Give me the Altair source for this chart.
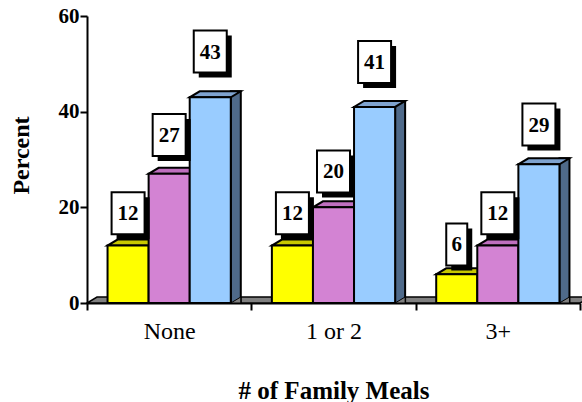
import json
import altair as alt
import pandas as pd

# ---- data ----
categories = ["None", "1 or 2", "3+"]
series = ["Series 1", "Series 2", "Series 3"]
values_1 = [12, 12, 6]
values_2 = [27, 20, 12]
values_3 = [43, 41, 29]
y_ticks = [0, 20, 40, 60]

front_colors = ["#ffff00", "#d383d3", "#99ccff"]
top_colors = ["#c8c800", "#bf6fbf", "#7fa3cf"]
side_color = "#4f6a8a"
floor_color = "#808080"

rows = []
for si, (s, vals) in enumerate(zip(series, [values_1, values_2, values_3])):
    for gi, (c, v) in enumerate(zip(categories, vals)):
        rows.append({"category": c, "series": s, "value": v, "gi": gi, "si": si})
df = pd.DataFrame(rows)

# ---- layout / style ----
FONT = "Liberation Serif"
W, H = 493, 287
STEP = len(series) + 1          # x units per category group
NX = STEP * len(categories)
BW = W / NX                      # bar width in px
DX, DY = 10, 6                   # 3D depth
SW = 2

xscale = alt.Scale(domain=[0, NX], nice=False, zero=False)
yscale = alt.Scale(domain=[0, 60], nice=False)

base = alt.Chart(df).transform_calculate(
    x0=f"datum.gi * {STEP} + 0.5 + datum.si",
    x1="datum.x0 + 1",
    xc="datum.x0 + 0.5",
    ly="datum.value * 1.09 + 5.7",
    nd="datum.value < 10 ? 'one' : 'two'",
)

label_expr = f"{json.dumps(categories)}[datum.value / {STEP}] || ''"

xaxis = alt.Axis(
    values=[i * STEP for i in range(len(categories) + 1)],
    labelExpr=label_expr,
    labelOffset=W / (2 * len(categories)),
    labelFlush=False,
    labelOverlap=False,
    labelFont=FONT, labelFontSize=24, labelColor="black",
    labelBaseline="alphabetic", labelPadding=28,
    tickSize=7, tickWidth=2, tickColor="black",
    domainWidth=2, domainColor="black",
    grid=False,
    title="# of Family Meals",
    titleFont=FONT, titleFontSize=25, titleFontWeight="bold", titleColor="black",
    titleBaseline="alphabetic", titleY=95, titleX=W / 2,
)
yaxis = alt.Axis(
    values=y_ticks,
    labelFont=FONT, labelFontSize=21, labelFontWeight="bold", labelColor="black",
    labelPadding=1,
    tickSize=7, tickWidth=2, tickColor="black",
    domainWidth=2, domainColor="black",
    grid=False,
    title="Percent",
    titleFont=FONT, titleFontSize=24, titleFontWeight="bold", titleColor="black",
    titleAngle=-90, titleBaseline="alphabetic", titleAlign="center",
    titleX=-59, titleY=139,
)

# floor
floor = alt.Chart(pd.DataFrame({"k": [0]})).mark_point(
    shape=f"M0,0 L{W},0 L{W + DX},{-DY} L{DX},{-DY} Z",
    size=4, filled=True, fill=floor_color, stroke="black", strokeWidth=1.5, opacity=1,
).encode(x=alt.datum(0, scale=xscale), y=alt.datum(0, scale=yscale))

last = base.transform_filter(f"datum.si == {len(series) - 1}")

side = last.mark_rect(
    fill=side_color, stroke="black", strokeWidth=SW, x2Offset=DX, yOffset=-DY,
).encode(
    x=alt.X("x1:Q", scale=xscale),
    x2="x1:Q",
    y=alt.Y("value:Q", scale=yscale),
    y2=alt.datum(0),
)

side_foot = last.mark_point(
    shape=f"M0,0 L{DX},{-DY} L{DX},0 Z",
    size=4, filled=True, fill=floor_color, stroke="black", strokeWidth=1, opacity=1,
).encode(x=alt.X("x1:Q", scale=xscale), y=alt.datum(0, scale=yscale))

tops = base.mark_point(
    shape=f"M0,0 L{BW:.2f},0 L{BW + DX:.2f},{-DY} L{DX},{-DY} Z",
    size=4, filled=True, stroke="black", strokeWidth=SW, opacity=1,
).encode(
    x=alt.X("x0:Q", scale=xscale),
    y=alt.Y("value:Q", scale=yscale),
    fill=alt.Fill("series:N", scale=alt.Scale(domain=series, range=top_colors), legend=None),
)

fronts = base.mark_rect(stroke="black", strokeWidth=SW).encode(
    x=alt.X("x0:Q", scale=xscale, axis=xaxis),
    x2="x1:Q",
    y=alt.Y("value:Q", scale=yscale, axis=yaxis),
    y2=alt.datum(0),
    color=alt.Color("series:N", scale=alt.Scale(domain=series, range=front_colors), legend=None),
)

box_paths = {
    "one": "M-10.5,-21 L10.5,-21 L10.5,21 L-10.5,21 Z",
    "two": "M-16.5,-21 L16.5,-21 L16.5,21 L-16.5,21 Z",
}
shadow_paths = {
    "one": "M-5.5,-16 L15.5,-16 L15.5,26 L-5.5,26 Z",
    "two": "M-11.5,-16 L21.5,-16 L21.5,26 L-11.5,26 Z",
}

shadow = base.mark_point(size=4, filled=True, fill="black", opacity=1, strokeWidth=0).encode(
    x=alt.X("xc:Q", scale=xscale),
    y=alt.Y("ly:Q", scale=yscale),
    shape=alt.Shape("nd:N", scale=alt.Scale(domain=list(shadow_paths), range=list(shadow_paths.values())), legend=None),
)
box = base.mark_point(size=4, filled=True, fill="white", stroke="black", strokeWidth=SW, opacity=1).encode(
    x=alt.X("xc:Q", scale=xscale),
    y=alt.Y("ly:Q", scale=yscale),
    shape=alt.Shape("nd:N", scale=alt.Scale(domain=list(box_paths), range=list(box_paths.values())), legend=None),
)
text = base.mark_text(font=FONT, fontSize=21, fontWeight="bold", color="black",
                      align="center", baseline="middle", dy=1).encode(
    x=alt.X("xc:Q", scale=xscale),
    y=alt.Y("ly:Q", scale=yscale),
    text=alt.Text("value:Q"),
)

chart = alt.layer(
    floor, side, side_foot, tops, fronts, shadow, box, text
).resolve_scale(shape="independent").properties(
    width=W, height=H,
    autosize=alt.AutoSizeParams(type="none"),
    padding={"left": 87, "top": 16, "right": 2, "bottom": 99},
    background="white",
).configure_view(stroke=None)

chart.save("out.html", embed_options={"renderer": "svg", "actions": False})
